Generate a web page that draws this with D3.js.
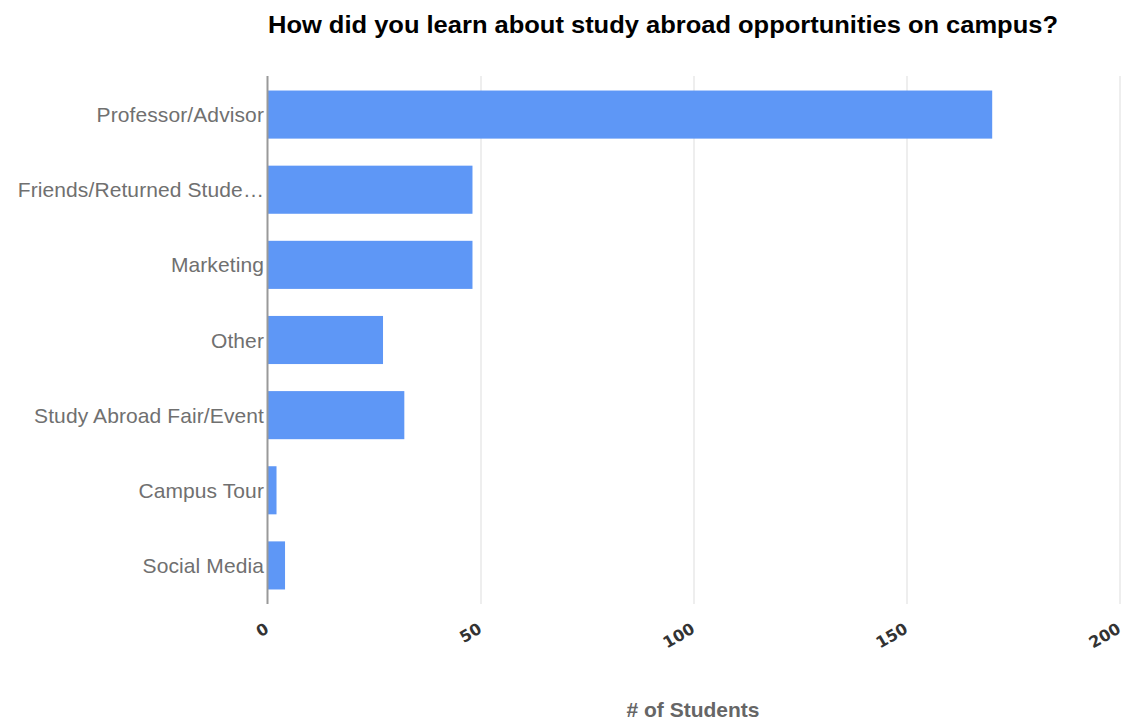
<!DOCTYPE html>
<html>
<head>
<meta charset="utf-8">
<script src="https://cdn.jsdelivr.net/npm/d3@7"></script>
<style>
  body { margin: 0; background: #fff; }
  text { font-family: "Liberation Sans", Arial, sans-serif; }
</style>
</head>
<body>
<div id="chart"></div>
<script>
// data
let categories = ["Professor/Advisor", "Friends/Returned Stude\u2026", "Marketing", "Other",
    "Study Abroad Fair/Event", "Campus Tour", "Social Media"]
let students = [170, 48, 48, 27, 32, 2, 4]
let xTicks = [0, 50, 100, 150, 200]

let width = 1124, height = 721
let margin = { top: 77, right: 4, bottom: 118, left: 268 }

let svg = d3.select("#chart")
    .append("svg")
    .attr("width", width)
    .attr("height", height)

let x = d3.scaleLinear()
    .domain([0, 200])
    .range([margin.left, width - margin.right])

let y = d3.scaleBand()
    .domain(categories)
    .range([margin.top, height - margin.bottom])
    .paddingInner(0.36)
    .paddingOuter(0.18)

// grid lines
svg.selectAll(".grid")
    .data(xTicks.slice(1))
    .enter()
    .append("line")
    .attr("class", "grid")
    .attr("x1", d => x(d))
    .attr("x2", d => x(d))
    .attr("y1", margin.top - 1)
    .attr("y2", height - margin.bottom + 1)
    .attr("stroke", "#dddddd")
    .attr("stroke-width", 1)

// bars
svg.selectAll(".bar")
    .data(categories)
    .enter()
    .append("rect")
    .attr("class", "bar")
    .attr("x", x(0))
    .attr("y", d => y(d))
    .attr("width", (d, i) => x(students[i]) - x(0))
    .attr("height", y.bandwidth())
    .attr("fill", "#5e97f6")

// vertical axis line
svg.append("line")
    .attr("x1", x(0) - 0.5)
    .attr("x2", x(0) - 0.5)
    .attr("y1", margin.top - 1)
    .attr("y2", height - margin.bottom + 1)
    .attr("stroke", "#999999")
    .attr("stroke-width", 2)

// category labels
svg.selectAll(".cat")
    .data(categories)
    .enter()
    .append("text")
    .attr("class", "cat")
    .attr("x", x(0) - 4)
    .attr("y", d => y(d) + y.bandwidth() / 2)
    .attr("dy", "0.36em")
    .attr("text-anchor", "end")
    .style("font-size", "21px")
    .style("letter-spacing", "0.1px")
    .style("fill", "#707070")
    .text(d => d)

// rotated tick labels
svg.selectAll(".tick")
    .data(xTicks)
    .enter()
    .append("text")
    .attr("class", "tick")
    .attr("transform", d => "translate(" + (x(d) + 2) + "," + 632 + ") rotate(-30)")
    .attr("text-anchor", "end")
    .style("font-family", "'DejaVu Sans', sans-serif")
    .style("font-size", "16px")
    .style("font-weight", "bold")
    .style("fill", "#333333")
    .text(d => d)

// title
svg.append("text")
    .attr("x", 268)
    .attr("y", 33)
    .attr("textLength", 790)
    .attr("lengthAdjust", "spacingAndGlyphs")
    .style("font-size", "23px")
    .style("font-weight", "bold")
    .style("fill", "#000")
    .text("How did you learn about study abroad opportunities on campus?")

// axis title
svg.append("text")
    .attr("x", 693)
    .attr("y", 717)
    .attr("text-anchor", "middle")
    .style("font-size", "21px")
    .style("font-weight", "bold")
    .style("fill", "#666666")
    .text("# of Students")
</script>
</body>
</html>
